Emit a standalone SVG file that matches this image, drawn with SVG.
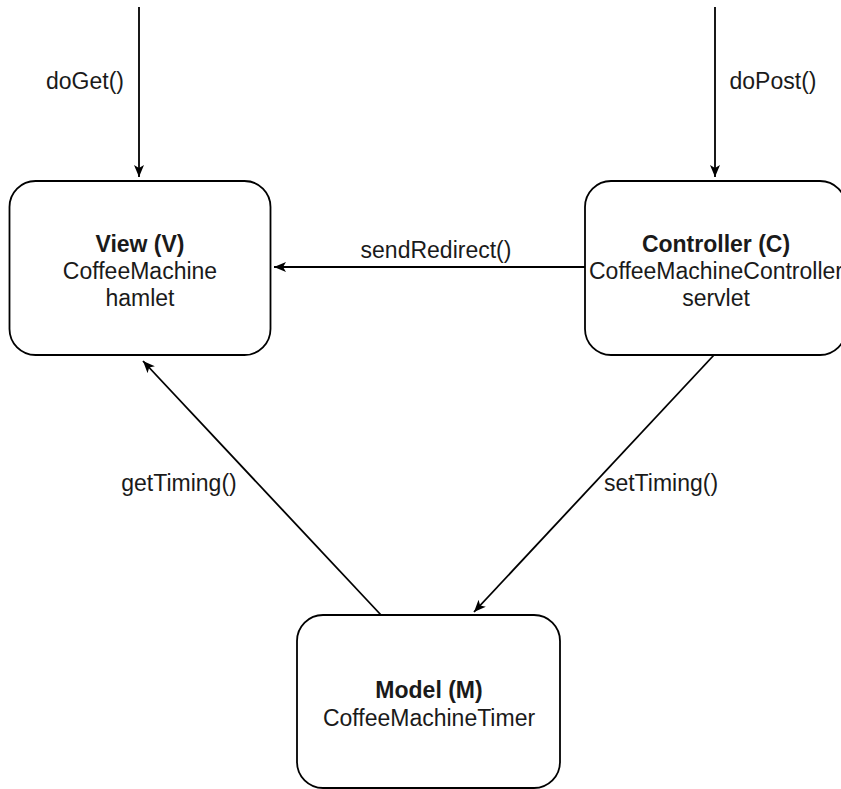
<svg xmlns="http://www.w3.org/2000/svg" width="841" height="789" viewBox="0 0 841 789">
<style>
.box{fill:#fff;stroke:#000;stroke-width:1.8}
.t{font-family:"Liberation Sans",Arial,sans-serif;font-size:23px;fill:#1a1a1a;text-anchor:middle}
.b{font-weight:bold}
.edge{stroke:#000;stroke-width:1.8;fill:none;marker-end:url(#arr)}
</style>
<defs>
<marker id="arr" markerUnits="userSpaceOnUse" markerWidth="14" markerHeight="12" refX="12" refY="5" orient="auto">
<path d="M0,0 L12,5 L0,10 L3,5 Z" fill="#000"/>
</marker>
</defs>
<rect width="841" height="789" fill="#fff"/>
<g id="edges">
<line class="edge" x1="139" y1="7" x2="139" y2="177"/>
<text class="t" x="85" y="89">doGet()</text>
<line class="edge" x1="715" y1="7" x2="715" y2="177"/>
<text class="t" x="773" y="89">doPost()</text>
<line class="edge" x1="585" y1="267" x2="274" y2="267"/>
<text class="t" x="436" y="258">sendRedirect()</text>
<line class="edge" x1="381" y1="615" x2="143" y2="361"/>
<text class="t" x="179" y="491">getTiming()</text>
<line class="edge" x1="714" y1="355" x2="474" y2="612"/>
<text class="t" x="661" y="491">setTiming()</text>
</g>
<g id="view">
<rect class="box" x="9.5" y="181" width="261" height="174" rx="26"/>
<text class="t b" x="140" y="252">View (V)</text>
<text class="t" x="140" y="279">CoffeeMachine</text>
<text class="t" x="140" y="306">hamlet</text>
</g>
<g id="controller">
<rect class="box" x="585" y="181" width="261" height="174" rx="26"/>
<text class="t b" x="716" y="252">Controller (C)</text>
<text class="t" x="716" y="279">CoffeeMachineController</text>
<text class="t" x="716" y="306">servlet</text>
</g>
<g id="model">
<rect class="box" x="297" y="615" width="263" height="173" rx="26"/>
<text class="t b" x="429" y="698">Model (M)</text>
<text class="t" x="429" y="726">CoffeeMachineTimer</text>
</g>
</svg>
